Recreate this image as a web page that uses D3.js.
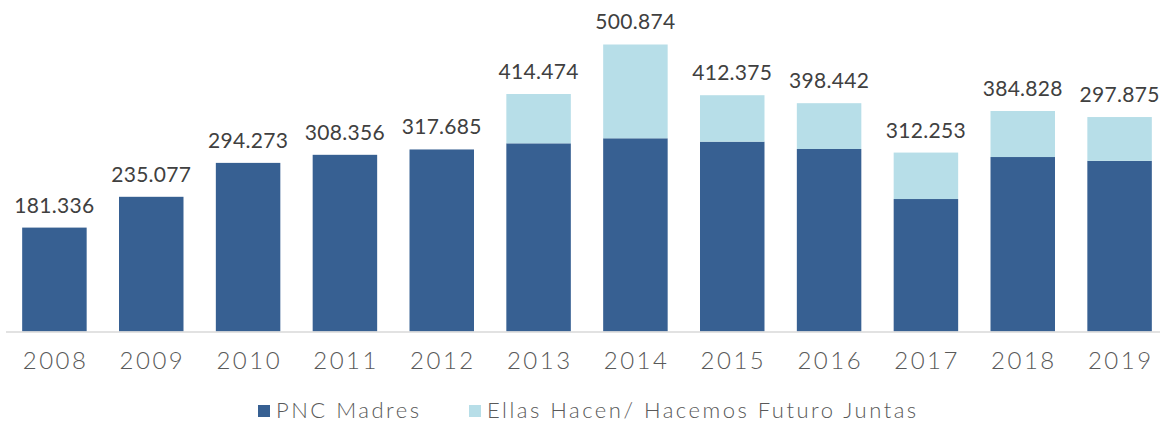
<!DOCTYPE html>
<html>
<head>
<meta charset="utf-8">
<script src="https://cdn.jsdelivr.net/npm/d3@7"></script>
<style>
  body { margin: 0; background: #fff; }
  svg { display: block; font-family: Lato, "Noto Sans", sans-serif; }
</style>
</head>
<body>
<div class="chart"></div>
<script>
var svgWidth = 1160;
var svgHeight = 421;

// data
var years = ["2008", "2009", "2010", "2011", "2012", "2013", "2014", "2015", "2016", "2017", "2018", "2019"];
var pncMadres = [181336, 235077, 294273, 308356, 317685, 328400, 337200, 331300, 318500, 231200, 304500, 297875];
var ellasHacen = [0, 0, 0, 0, 0, 86074, 163674, 81075, 79942, 81053, 80328, 76400];
var totalLabels = ["181.336", "235.077", "294.273", "308.356", "317.685", "414.474", "500.874", "412.375", "398.442", "312.253", "384.828", "297.875"];
var seriesNames = ["PNC Madres", "Ellas Hacen/ Hacemos Futuro Juntas"];
var seriesColors = ["#376092", "#b7dee8"];

var dataset = years.map(function (y, i) {
    return { year: y, pnc: pncMadres[i], ellas: ellasHacen[i], label: totalLabels[i] };
});

var svg = d3.select(".chart")
    .append("svg")
    .attr("width", svgWidth)
    .attr("height", svgHeight);

// scales
var xScale = d3.scaleBand()
    .domain(years)
    .range([6, 1168])
    .paddingInner(0.334)
    .paddingOuter(0.167);

var yScale = d3.scaleLinear()
    .domain([0, 500000])
    .range([331.5, 45]);

// stack the two series
var stack = d3.stack().keys(["pnc", "ellas"]);
var stacked = stack(dataset);

var chart = svg.append("g");

chart.selectAll("g.series")
    .data(stacked)
    .enter()
    .append("g")
    .attr("class", "series")
    .attr("fill", function (d, i) { return seriesColors[i]; })
    .selectAll("rect")
    .data(function (d) { return d.filter(function (s) { return s[1] > s[0]; }); })
    .enter()
    .append("rect")
    .attr("x", function (d) { return xScale(d.data.year); })
    .attr("width", xScale.bandwidth())
    .attr("y", function (d) { return yScale(d[1]); })
    .attr("height", function (d) { return yScale(d[0]) - yScale(d[1]); });

// x axis
var xAxis = d3.axisBottom(xScale).tickSize(0).tickPadding(20);
var xg = chart.append("g")
    .attr("transform", "translate(0," + 332 + ")")
    .call(xAxis);
xg.select(".domain")
    .attr("d", "M6,0H1160")
    .attr("stroke", "#d9d9d9")
    .attr("stroke-width", 1.5);
xg.selectAll("text")
    .attr("font-family", "Lato, sans-serif")
    .attr("font-size", "24px")
    .attr("font-weight", 300)
    .attr("letter-spacing", "2.5px")
    .attr("dx", "1.2px")
    .attr("fill", "#595959");

// total labels
chart.selectAll("text.total")
    .data(dataset)
    .enter()
    .append("text")
    .attr("class", "total")
    .attr("x", function (d) { return xScale(d.year) + xScale.bandwidth() / 2; })
    .attr("y", function (d) { return yScale(d.pnc + d.ellas) - 15; })
    .attr("text-anchor", "middle")
    .attr("font-size", "21px")
    .attr("letter-spacing", "0.3px")
    .attr("fill", "#404040")
    .text(function (d) { return d.label; });

// legend
var legendX = [258, 469];
var legend = svg.selectAll("g.legend")
    .data(seriesNames)
    .enter()
    .append("g")
    .attr("class", "legend")
    .attr("transform", function (d, i) { return "translate(" + legendX[i] + ",405)"; });
legend.append("rect")
    .attr("width", 12)
    .attr("height", 12)
    .attr("fill", function (d, i) { return seriesColors[i]; });
legend.append("text")
    .attr("x", 18)
    .attr("y", 12.5)
    .attr("font-size", "22px")
    .attr("font-weight", 300)
    .attr("letter-spacing", "2.5px")
    .attr("fill", "#595959")
    .text(function (d) { return d; });
</script>
</body>
</html>
